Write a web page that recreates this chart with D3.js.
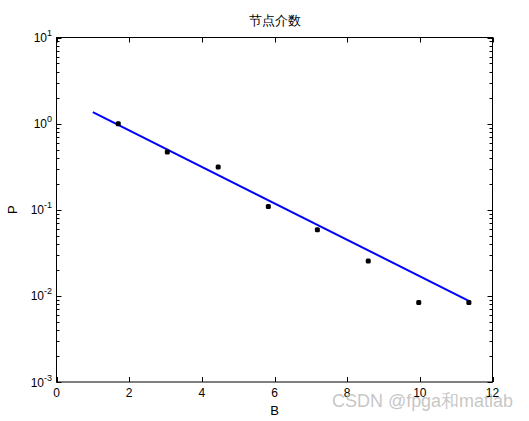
<!DOCTYPE html>
<html><head><meta charset="utf-8">
<script src="https://cdn.jsdelivr.net/npm/d3@7"></script>
<style>
body{margin:0;background:#fff;}
text{font-family:"Liberation Sans",Arial,sans-serif;}
</style></head>
<body>
<svg id="c" width="529" height="421"></svg>
<script>
const title = "节点介数";
const xLabel = "B";
const yLabel = "P";
const dataB = [1.70, 3.05, 4.45, 5.83, 7.18, 8.58, 9.97, 11.35];
const dataP = [1.0, 0.468, 0.313, 0.109, 0.0587, 0.0254, 0.0084, 0.0084];
const fitB = [1.0, 11.36];
const fitP = [1.36, 0.0087];
const xTicks = [0, 2, 4, 6, 8, 10, 12];
const yExps = [-3, -2, -1, 0, 1];
const watermark = "CSDN @fpga和matlab";

const svg = d3.select("#c");
const L = 56.5, R = 492.5, T = 37.5, B = 382;
const x = d3.scaleLinear().domain([0, 12]).range([L, R]);
const y = d3.scaleLog().domain([1e-3, 1e1]).range([B, T]);

// fit line
const line = d3.line().x(d => x(d[0])).y(d => y(d[1]));
svg.append("path").datum(fitB.map((b, i) => [b, fitP[i]]))
  .attr("d", line).attr("fill", "none").attr("stroke", "#0000ff").attr("stroke-width", 2);

// points
svg.selectAll("rect.pt").data(dataB.map((b, i) => [b, dataP[i]])).enter()
  .append("rect").attr("x", d => x(d[0]) - 2.5).attr("y", d => y(d[1]) - 2.5)
  .attr("width", 5).attr("height", 5).attr("rx", 1.5).attr("fill", "#000");

// box
svg.append("rect").attr("x", L).attr("y", T).attr("width", R - L).attr("height", B - T)
  .attr("fill", "none").attr("stroke", "#000").attr("stroke-width", 1);

const g = svg.append("g").attr("stroke", "#000").attr("stroke-width", 1);
// x ticks
xTicks.forEach(v => {
  const px = Math.round(x(v)) + 0.5;
  g.append("line").attr("x1", px).attr("x2", px).attr("y1", B).attr("y2", B - 5);
  g.append("line").attr("x1", px).attr("x2", px).attr("y1", T).attr("y2", T + 5);
});
svg.selectAll("text.xt").data(xTicks).enter().append("text")
  .attr("x", d => x(d)).attr("y", 397).attr("text-anchor", "middle")
  .attr("font-size", 12).text(d => d);

// y ticks
yExps.forEach(e => {
  const py = Math.round(y(Math.pow(10, e))) + 0.5;
  g.append("line").attr("x1", L).attr("x2", L + 5).attr("y1", py).attr("y2", py);
  g.append("line").attr("x1", R).attr("x2", R - 5).attr("y1", py).attr("y2", py);
  if (e < 1) {
    for (let m = 2; m <= 9; m++) {
      const pm = Math.round(y(m * Math.pow(10, e))) + 0.5;
      g.append("line").attr("x1", L).attr("x2", L + 3).attr("y1", pm).attr("y2", pm);
      g.append("line").attr("x1", R).attr("x2", R - 3).attr("y1", pm).attr("y2", pm);
    }
  }
  const t = svg.append("text").attr("x", 52).attr("y", y(Math.pow(10, e)) + 4.5)
    .attr("text-anchor", "end").attr("font-size", 12);
  t.append("tspan").text("10");
  t.append("tspan").attr("dy", -6).attr("font-size", 9).text(String(e));
});

// labels
svg.append("text").attr("x", (L + R) / 2).attr("y", 415).attr("text-anchor", "middle")
  .attr("font-size", 13).text(xLabel);
svg.append("text").attr("transform", `translate(17,${(T + B) / 2}) rotate(-90)`)
  .attr("text-anchor", "middle").attr("font-size", 13).text(yLabel);
svg.append("text").attr("x", (L + R) / 2).attr("y", 25).attr("text-anchor", "middle")
  .attr("font-family", "Noto Sans CJK SC").attr("font-size", 13).text(title);

// watermark
svg.append("text").attr("x", 332).attr("y", 406.5).attr("text-anchor", "start")
  .attr("font-family", "Noto Sans CJK SC").attr("font-size", 18)
  .attr("textLength", 181).attr("lengthAdjust", "spacingAndGlyphs")
  .attr("fill", "#bcbcbc").attr("fill-opacity", 0.85).text(watermark);
</script>
</body></html>
